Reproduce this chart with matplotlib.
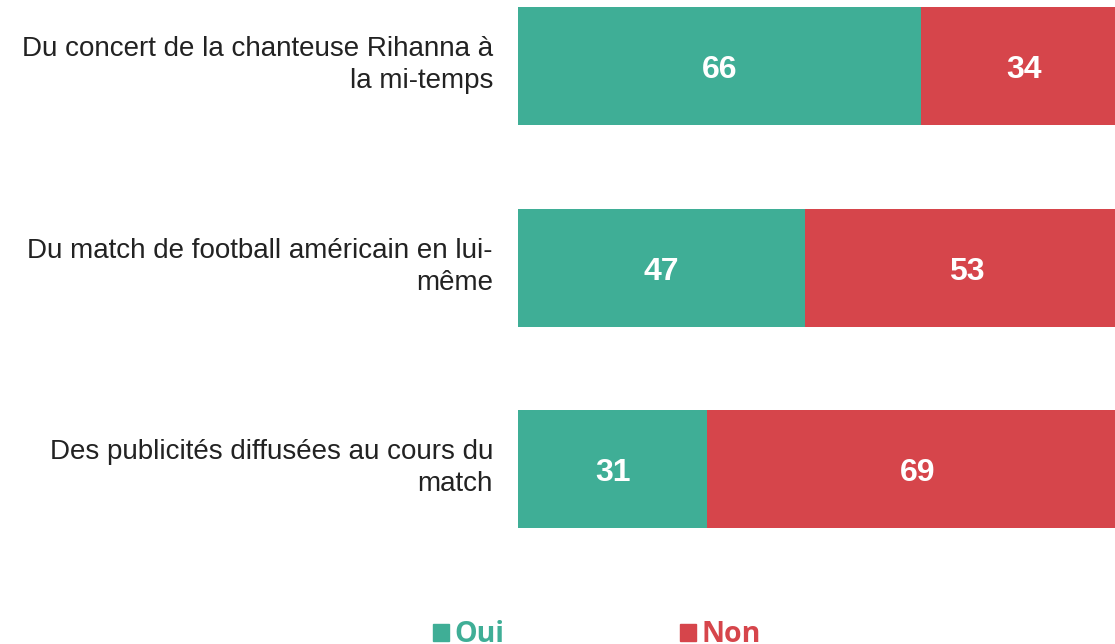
import matplotlib.pyplot as plt
from matplotlib.patches import Patch

categories = [
    "Du concert de la chanteuse Rihanna à\nla mi-temps",
    "Du match de football américain en lui-\nmême",
    "Des publicités diffusées au cours du\nmatch",
]
oui = [66, 47, 31]
non = [34, 53, 69]

greenColor = "#3FAE96"
redColor = "#D6454B"

fig = plt.figure(figsize=(11.15, 6.44), dpi=100)
ax = fig.add_axes([518 / 1115, 1 - 540 / 644, 1 - 518 / 1115, 540 / 644])

pos = list(range(len(categories)))
h = 118 / 201.5
ax.barh(pos, oui, height=h, color=greenColor)
ax.barh(pos, non, left=oui, height=h, color=redColor)

# value labels: baseline about 12 px below bar centre
dy = 12 / 201.5
for i in pos:
    ax.text(oui[i] / 2, i + dy, str(oui[i]), ha="center", va="baseline",
            color="white", fontsize=23, fontweight="bold", family="Liberation Sans")
    ax.text(oui[i] + non[i] / 2, i + dy, str(non[i]), ha="center", va="baseline",
            color="white", fontsize=23, fontweight="bold", family="Liberation Sans")
    ax.text(-4.1, i - 0.005, categories[i], ha="right", va="center", fontsize=20,
            family="Liberation Sans", color="#222222", linespacing=1.3)

# bars run past the right edge of the figure (cropped in the original)
ax.set_xlim(0, 100 * 597 / 610)
ax.set_ylim(2.352, -0.3275)
ax.axis("off")

handles = [Patch(color=greenColor, label="Oui"), Patch(color=redColor, label="Non")]
leg = fig.legend(handles=handles, loc="center", bbox_to_anchor=(0.5355, 0.014), ncol=2,
                 frameon=False, handlelength=0.55, handleheight=0.55, handletextpad=0.2,
                 columnspacing=6.15, prop={"family": "Open Sans", "weight": "bold", "size": 20.5})
for t, c in zip(leg.get_texts(), [greenColor, redColor]):
    t.set_color(c)

fig.savefig("out.png", dpi=100)
